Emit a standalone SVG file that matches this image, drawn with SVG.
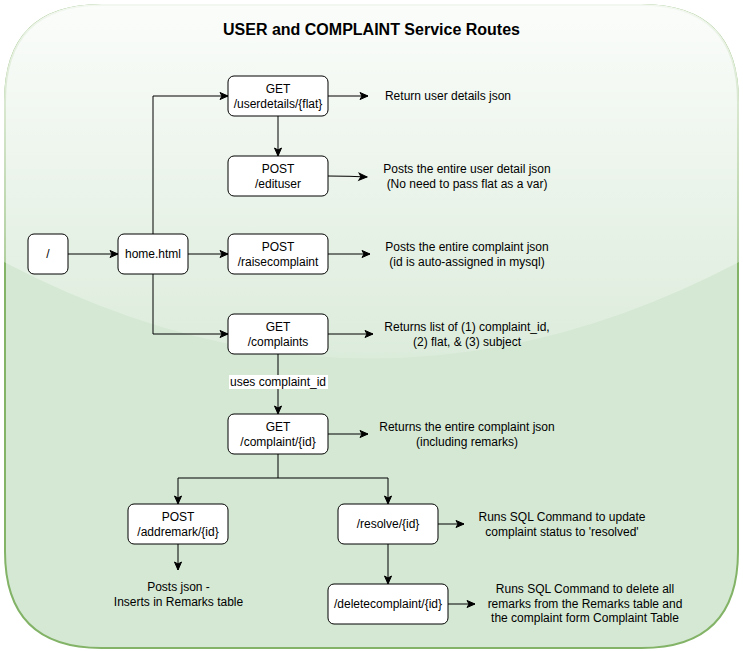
<svg xmlns="http://www.w3.org/2000/svg" width="743" height="651" viewBox="0 0 743 651">
<defs>
  <linearGradient id="glass" gradientUnits="userSpaceOnUse" x1="0" y1="5" x2="0" y2="391">
    <stop offset="0" stop-color="#ffffff" stop-opacity="0.9"/>
    <stop offset="1" stop-color="#ffffff" stop-opacity="0.1"/>
  </linearGradient>
  <marker id="arr" markerUnits="userSpaceOnUse" markerWidth="10" markerHeight="10" refX="8" refY="3.5" orient="auto" overflow="visible">
    <path d="M0,0 L8,3.5 L0,7 L2,3.5 Z" fill="#000" stroke="#000" stroke-width="1"/>
  </marker>
</defs>
<style>
  .node { fill: #ffffff; stroke: #000000; stroke-width: 1; }
  .t { font-family: "Liberation Sans", Arial, sans-serif; font-size: 12px; fill: #000; text-anchor: middle; }
  .title { font-family: "Liberation Sans", Arial, sans-serif; font-size: 16px; font-weight: bold; fill: #000; text-anchor: middle; }
  .edge { fill: none; stroke: #000; stroke-width: 1; marker-end: url(#arr); }
  .line { fill: none; stroke: #000; stroke-width: 1; }
</style>

<g id="container">
  <path d="M101.5,5 L641.5,5 Q738,5 738,101.5 L738,551.5 Q738,648 641.5,648 L101.5,648 Q5,648 5,551.5 L5,101.5 Q5,5 101.5,5 Z" fill="#d5e8d4" stroke="#82b366" stroke-width="2"/>
  <path d="M102,4 Q4,4 4,102 L4,262 Q371.5,455 739,262 L739,102 Q739,4 641,4 Z" fill="url(#glass)"/>
  <text class="title" x="371.5" y="35">USER and COMPLAINT Service Routes</text>
</g>

<g id="connectors">
  <path class="edge" d="M68,254 L118,254"/>
  <path class="edge" d="M188,254 L228,254"/>
  <path class="edge" d="M153,234 L153,96 L228,96"/>
  <path class="edge" d="M153,274 L153,334 L228,334"/>
  <path class="edge" d="M278,116 L278,156"/>
  <path class="edge" d="M328,96 L368,96"/>
  <path class="edge" d="M328,176 L350,176.3 L367,177"/>
  <path class="edge" d="M328,254 L370,254"/>
  <path class="edge" d="M328,334 L373,334"/>
  <path class="edge" d="M278,354 L278,414"/>
  <rect x="229" y="375" width="99" height="14" fill="#ffffff"/>
  <text class="t" x="278" y="386">uses complaint_id</text>
  <path class="edge" d="M328,434 L368,434"/>
  <path class="edge" d="M278,454 L278,478 L178,478 L178,504"/>
  <path class="edge" d="M278,478 L388,478 L388,504"/>
  <path class="edge" d="M178,544 L178,570"/>
  <path class="edge" d="M438,524 L464,524"/>
  <path class="edge" d="M388,544 L388,584"/>
  <path class="edge" d="M448,604 L475,604"/>
</g>

<g id="root">
  <rect class="node" x="28" y="234" width="40" height="40" rx="6"/>
  <text class="t" x="48" y="258">/</text>
</g>
<g id="home">
  <rect class="node" x="118" y="234" width="70" height="40" rx="6"/>
  <text class="t" x="153" y="258">home.html</text>
</g>
<g id="userdetails">
  <rect class="node" x="228" y="76" width="100" height="40" rx="6"/>
  <text class="t" x="278" y="93">GET</text>
  <text class="t" x="278" y="107.5">/userdetails/{flat}</text>
</g>
<g id="edituser">
  <rect class="node" x="228" y="156" width="100" height="40" rx="6"/>
  <text class="t" x="278" y="173">POST</text>
  <text class="t" x="278" y="187.5">/edituser</text>
</g>
<g id="raisecomplaint">
  <rect class="node" x="228" y="234" width="100" height="40" rx="6"/>
  <text class="t" x="278" y="251">POST</text>
  <text class="t" x="278" y="265.5">/raisecomplaint</text>
</g>
<g id="complaints">
  <rect class="node" x="228" y="314" width="100" height="40" rx="6"/>
  <text class="t" x="278" y="331">GET</text>
  <text class="t" x="278" y="345.5">/complaints</text>
</g>
<g id="complaint">
  <rect class="node" x="228" y="414" width="100" height="40" rx="6"/>
  <text class="t" x="278" y="431">GET</text>
  <text class="t" x="278" y="445.5">/complaint/{id}</text>
</g>
<g id="addremark">
  <rect class="node" x="128" y="504" width="100" height="40" rx="6"/>
  <text class="t" x="178" y="521">POST</text>
  <text class="t" x="178" y="535.5">/addremark/{id}</text>
</g>
<g id="resolve">
  <rect class="node" x="338" y="504" width="100" height="40" rx="6"/>
  <text class="t" x="388" y="528">/resolve/{id}</text>
</g>
<g id="deletecomplaint">
  <rect class="node" x="328" y="584" width="120" height="40" rx="6"/>
  <text class="t" x="388" y="608">/deletecomplaint/{id}</text>
</g>

<g id="desc-userdetails">
  <text class="t" x="448" y="100">Return user details json</text>
</g>
<g id="desc-edituser">
  <text class="t" x="467" y="173">Posts the entire user detail json</text>
  <text class="t" x="467" y="188">(No need to pass flat as a var)</text>
</g>
<g id="desc-raisecomplaint">
  <text class="t" x="467" y="251">Posts the entire complaint json</text>
  <text class="t" x="467" y="266">(id is auto-assigned in mysql)</text>
</g>
<g id="desc-complaints">
  <text class="t" x="467" y="331">Returns list of (1) complaint_id,</text>
  <text class="t" x="467" y="346">(2) flat, &amp; (3) subject</text>
</g>
<g id="desc-complaint">
  <text class="t" x="467" y="431">Returns the entire complaint json</text>
  <text class="t" x="467" y="446">(including remarks)</text>
</g>
<g id="desc-addremark">
  <text class="t" x="178.5" y="591">Posts json -</text>
  <text class="t" x="178.5" y="606">Inserts in Remarks table</text>
</g>
<g id="desc-resolve">
  <text class="t" x="562" y="521">Runs SQL Command to update</text>
  <text class="t" x="562" y="536">complaint status to 'resolved'</text>
</g>
<g id="desc-deletecomplaint">
  <text class="t" x="585" y="593">Runs SQL Command to delete all</text>
  <text class="t" x="585" y="608">remarks from the Remarks table and</text>
  <text class="t" x="585" y="622">the complaint form Complaint Table</text>
</g>
</svg>
